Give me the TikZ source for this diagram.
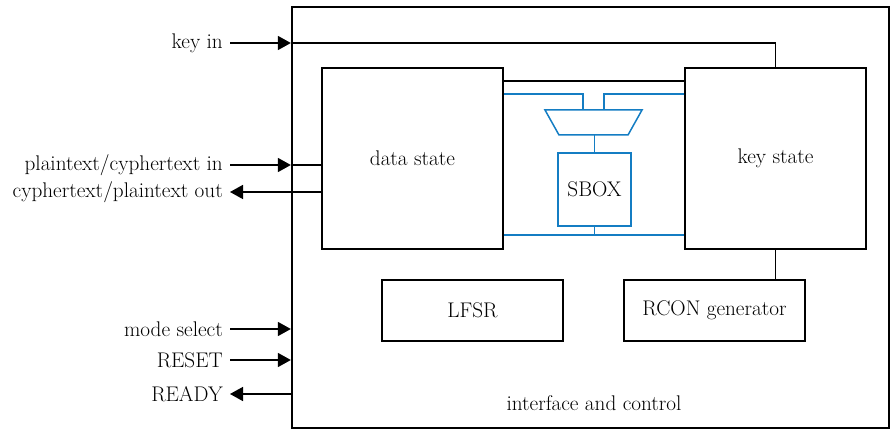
\documentclass[tikz,border=0pt]{standalone}
\usetikzlibrary{arrows.meta}
\definecolor{sboxblue}{RGB}{20,125,195}
\begin{document}
\begin{tikzpicture}[x=1pt,y=-1pt,
  font=\fontsize{21.2}{25}\selectfont,
  blk/.style={draw, line width=1.5pt, inner sep=0pt},
  bl/.style={draw=sboxblue, line width=1.5pt},
  wire/.style={line width=1.5pt},
  arr/.style={line width=1.5pt, -{Triangle[length=13pt,width=14pt]}},
  lbl/.style={anchor=east, inner sep=0pt}]
\useasboundingbox (0,0) rectangle (891,430);

% enclosing interface block
\node[blk, line width=2.3pt, minimum width=597pt, minimum height=421pt] (ctl) at (590.5,217.5) {};
\node (ctltxt) at (594,403) {interface and control};

% state registers
\node[blk, minimum width=181pt, minimum height=181pt] (ds) at (412.5,158.5) {data state};
\node[blk, minimum width=181pt, minimum height=181pt] (ks) at (775.5,158.5) {key state};

% helper units
\node[blk, minimum width=181pt, minimum height=61pt] (lfsr) at (472.5,310.5) {LFSR};
\node[blk, minimum width=181pt, minimum height=61pt] (rcon) at (714.5,310.5) {RCON generator};

% substitution box and its input multiplexer
\node[blk, draw=sboxblue, minimum width=73pt, minimum height=73pt] (sbox) at (594.5,189.5) {SBOX};
\coordinate (mA) at (545,110);
\coordinate (mB) at (642,110);
\coordinate (mC) at (628,135);
\coordinate (mD) at (559,135);
\coordinate (min1) at (583,110);
\coordinate (min2) at (604,110);
\draw[bl] (mA) -- (mB) -- (mC) -- (mD) -- cycle;
\draw[bl] (sbox.north |- mD) -- (sbox.north);
\draw[bl] (ds.east |- 0,94) -| (min1);
\draw[bl] (ks.west |- 0,94) -| (min2);
\coordinate (sbus) at (594,235);
\draw[bl] (ds.east |- sbus) -- (ks.west |- sbus);
\draw[bl] (sbox.south) -- (sbox.south |- sbus);

% direct state path
\draw[wire] (ds.east |- 0,81) -- (ks.west |- 0,81);
\draw[wire] (ks.south) -- (ks.south |- rcon.north);

% external ports
\node[lbl] (kin) at (223,43) {key in};
\node[lbl] (pin) at (223,165) {plaintext/cyphertext in};
\node[lbl] (cout) at (223,192) {cyphertext/plaintext out};
\node[lbl] (mode) at (223,329) {mode select};
\node[lbl] (rst) at (223,360) {RESET};
\node[lbl] (rdy) at (223,394) {READY};

\draw[arr] ([xshift=7pt]kin.east) -- (kin -| ctl.west);
\draw[wire] (kin -| ctl.west) -| (ks.north);
\draw[arr] ([xshift=7pt]pin.east) -- (pin -| ctl.west);
\draw[wire] (pin -| ctl.west) -- (pin -| ds.west);
\draw[arr] (cout -| ds.west) -- ([xshift=7pt]cout.east);
\draw[arr] ([xshift=7pt]mode.east) -- (mode -| ctl.west);
\draw[arr] ([xshift=7pt]rst.east) -- (rst -| ctl.west);
\draw[arr] (rdy -| ctl.west) -- ([xshift=7pt]rdy.east);
\end{tikzpicture}
\end{document}
